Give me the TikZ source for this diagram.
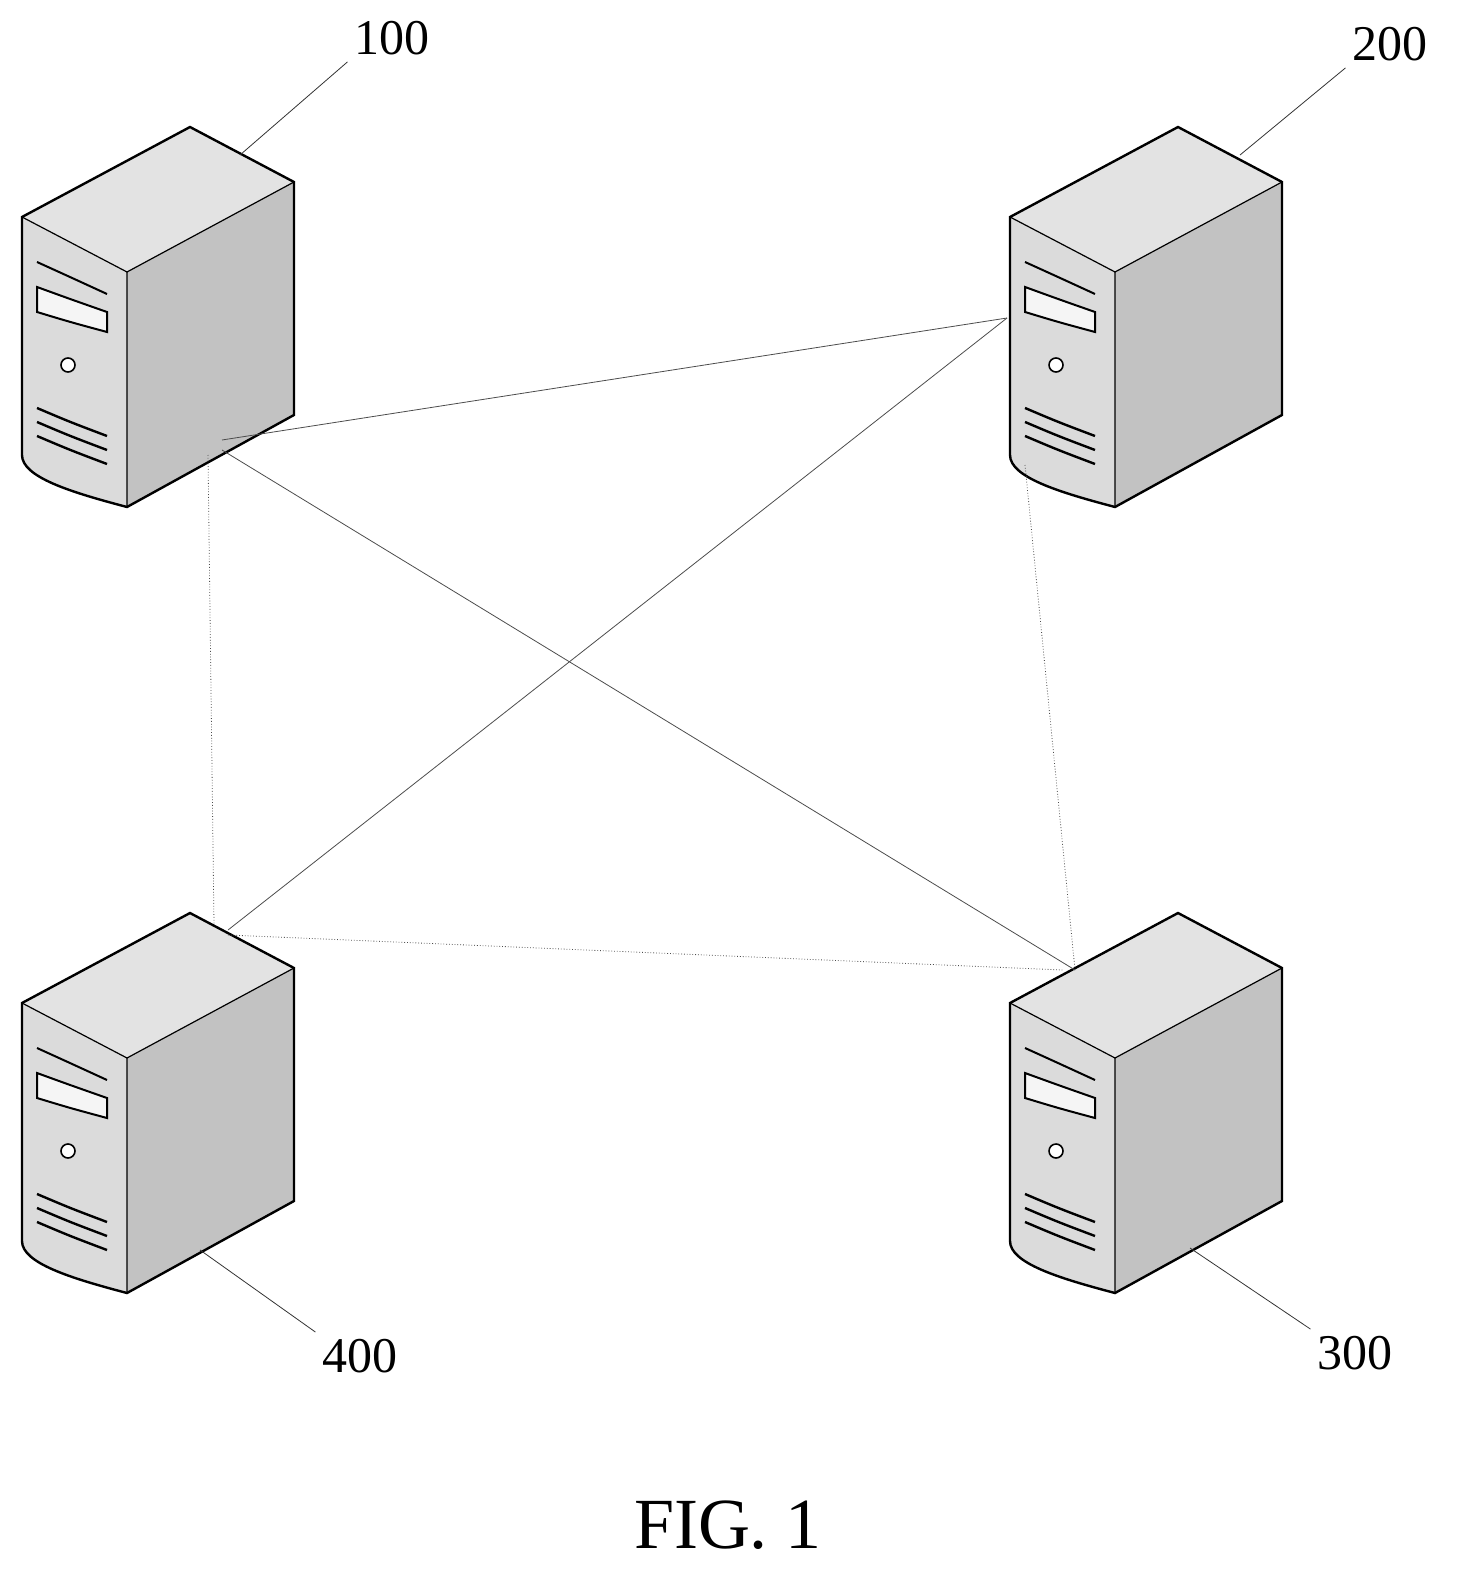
\documentclass[tikz,border=0pt]{standalone}
\usepackage{fontspec}
\setmainfont{Liberation Serif}
\tikzset{
  link/.style={draw=black!70, line width=0.4pt},
  leader/.style={draw=black!80, line width=0.4pt},
  tag/.style={font=\fontsize{25}{27}\selectfont},
  server/.pic={
    % top, front and side faces
    \fill[gray!22] (0,0)--(104,55)--(-63,145)--(-168,90)--cycle;
    \fill[gray!28] (-168,90)--(-63,145)--(-63,380) .. controls (-120,365) and (-168,350) .. (-168,328)--cycle;
    \fill[gray!48] (-63,145)--(104,55)--(104,288)--(-63,380)--cycle;
    \draw[line width=1.2pt] (0,0)--(104,55)--(104,288)--(-63,380) .. controls (-120,365) and (-168,350) .. (-168,328)--(-168,90)--cycle;
    \draw[line width=0.6pt] (-168,90)--(-63,145)--(104,55) (-63,145)--(-63,380);
    % bezel slot
    \draw[line width=1pt] (-153,135) .. controls (-120,150) .. (-83,167);
    \draw[line width=1pt, fill=gray!8] (-153,160) .. controls (-120,172) .. (-83,185)--(-83,205) .. controls (-120,195) .. (-153,185)--cycle;
    \draw[line width=0.8pt, fill=white] (-122,238) circle (7);
    % vents
    \foreach \v in {0,14,28}
      \draw[line width=1.2pt] (-153,281+\v) .. controls (-120,295+\v) .. (-83,309+\v);
  }
}
\begin{document}
\begin{tikzpicture}[x=0.5pt,y=-0.5pt]
\useasboundingbox (0,0) rectangle (1470,1593);
% servers
\pic (s100) at (190,127) {server};
\pic (s200) at (1178,127) {server};
\pic (s400) at (190,913) {server};
\pic (s300) at (1178,913) {server};
% link ends
\coordinate (a100) at (222,440);
\coordinate (b100) at (222,450);
\coordinate (c100) at (208,455);
\coordinate (a200) at (1007,318);
\coordinate (b200) at (1025,465);
\coordinate (a400) at (228,930);
\coordinate (b400) at (214,925);
\coordinate (c400) at (228,935);
\coordinate (a300) at (1075,970);
\coordinate (b300) at (1063,970);
% links
\draw[link] (a100) -- (a200);
\draw[link] (b100) -- (a300);
\draw[link, densely dotted] (c100) -- (b400);
\draw[link] (a200) -- (a400);
\draw[link, densely dotted] (b200) -- (a300);
\draw[link, densely dotted] (c400) -- (b300);
% labels
\node[tag] (l100) at (392,38) {100};
\node[tag] (l200) at (1390,44) {200};
\node[tag] (l400) at (360,1356) {400};
\node[tag] (l300) at (1355,1353) {300};
\coordinate (t100) at (240,155);
\coordinate (t200) at (1240,155);
\coordinate (t400) at (200,1250);
\coordinate (t300) at (1190,1248);
\draw[leader] (l100.south west) -- (t100);
\draw[leader] (l200.south west) -- (t200);
\draw[leader] (l400.north west) -- (t400);
\draw[leader] (l300.north west) -- (t300);
\node[font=\fontsize{36}{40}\selectfont] (fig) at (728,1525) {FIG. 1};
\end{tikzpicture}
\end{document}
